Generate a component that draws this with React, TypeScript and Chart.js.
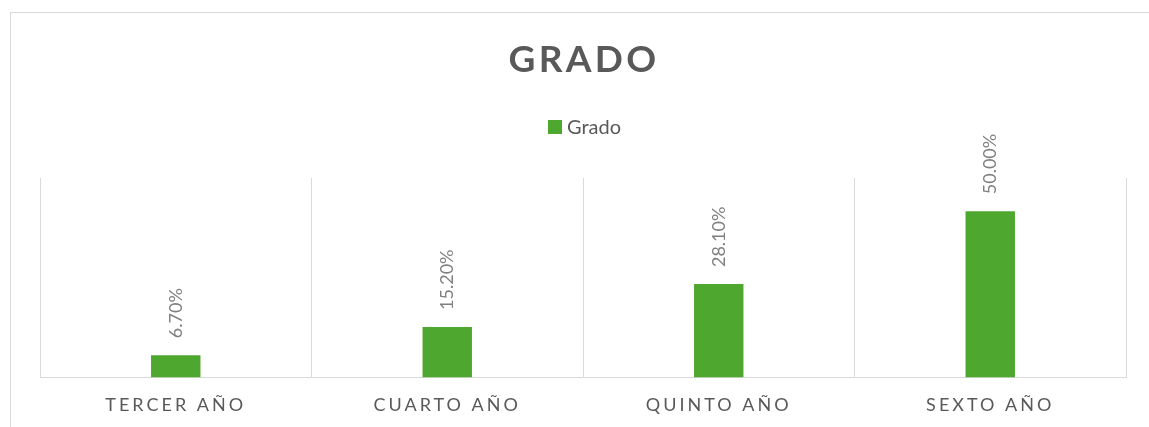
import { useEffect, useRef } from "react";
import { Chart, registerables } from "chart.js";

Chart.register(...registerables);

const categories = ["TERCER AÑO", "CUARTO AÑO", "QUINTO AÑO", "SEXTO AÑO"];
const values = [6.7, 15.2, 28.1, 50.0];
const seriesName = "Grado";
const chartTitle = "GRADO";
const yMin = 0;
const yMax = 60;

const GREEN = "#4EA72E";
const TEXT = "#595959";
const LABEL = "#7F7F7F";
const GRID = "#D9D9D9";
const FONT = "Lato, 'Open Sans', sans-serif";

const decorPlugin = {
  id: "decor",
  beforeDraw(chart: any) {
    const ctx = chart.ctx;
    ctx.letterSpacing = "3px";
  },
  afterDatasetsDraw(chart: any) {
    const ctx = chart.ctx;
    ctx.save();
    ctx.letterSpacing = "0px";
    const meta = chart.getDatasetMeta(0);
    const data = chart.data.datasets[0].data as number[];
    ctx.fillStyle = LABEL;
    ctx.font = `18px ${FONT}`;
    ctx.textAlign = "left";
    ctx.textBaseline = "middle";
    meta.data.forEach((bar: any, i: number) => {
      ctx.save();
      ctx.translate(bar.x, bar.y - 17);
      ctx.rotate(-Math.PI / 2);
      ctx.fillText(data[i].toFixed(2) + "%", 0, 0);
      ctx.restore();
    });
    ctx.restore();
  },
  afterDraw(chart: any) {
    const ctx = chart.ctx;
    ctx.save();
    // title
    ctx.letterSpacing = "3.3px";
    ctx.font = `bold 37px ${FONT}`;
    ctx.fillStyle = TEXT;
    ctx.textAlign = "center";
    ctx.textBaseline = "middle";
    ctx.fillText(chartTitle, 584, 60);
    // legend
    ctx.letterSpacing = "0px";
    ctx.fillStyle = GREEN;
    ctx.fillRect(548, 120, 14, 14);
    ctx.fillStyle = TEXT;
    ctx.font = `20px ${FONT}`;
    ctx.textAlign = "left";
    ctx.fillText(seriesName, 567, 128);
    ctx.letterSpacing = "0px";
    ctx.restore();
  },
};

export default function App() {
  const ref = useRef<HTMLCanvasElement | null>(null);
  useEffect(() => {
    if (!ref.current) return;
    const chart = new Chart(ref.current, {
      type: "bar",
      data: {
        labels: categories,
        datasets: [
          {
            label: seriesName,
            data: values,
            backgroundColor: GREEN,
            borderWidth: 0,
            categoryPercentage: 1,
            barPercentage: 0.182,
          },
        ],
      },
      options: {
        animation: false,
        responsive: false,
        maintainAspectRatio: false,
        layout: { padding: { left: 40, right: 23, top: 178, bottom: 13 } },
        plugins: {
          legend: { display: false },
          title: { display: false },
          tooltip: { enabled: false },
        },
        scales: {
          x: {
            offset: true,
            grid: {
              display: true,
              offset: true,
              color: GRID,
              lineWidth: 1,
              drawTicks: false,
            },
            border: { display: true, color: GRID, width: 1 },
            ticks: {
              color: TEXT,
              font: { family: FONT, size: 18 },
              padding: 17,
              maxRotation: 0,
              autoSkip: false,
            },
          },
          y: {
            display: false,
            min: yMin,
            max: yMax,
            grid: { display: false },
          },
        },
      },
      plugins: [decorPlugin],
    });
    return () => chart.destroy();
  }, []);
  return (
    <div style={{ position: "fixed", left: 0, top: 0, width: 1149, height: 427, background: "#fff", overflow: "hidden" }}>
      <div
        style={{
          position: "absolute",
          left: 10,
          top: 12,
          width: 1300,
          height: 600,
          borderLeft: `1px solid ${GRID}`,
          borderTop: `1px solid ${GRID}`,
        }}
      />
      <canvas ref={ref} width={1149} height={446} style={{ position: "absolute", left: 0, top: 0, width: 1149, height: 446 }} />
    </div>
  );
}
